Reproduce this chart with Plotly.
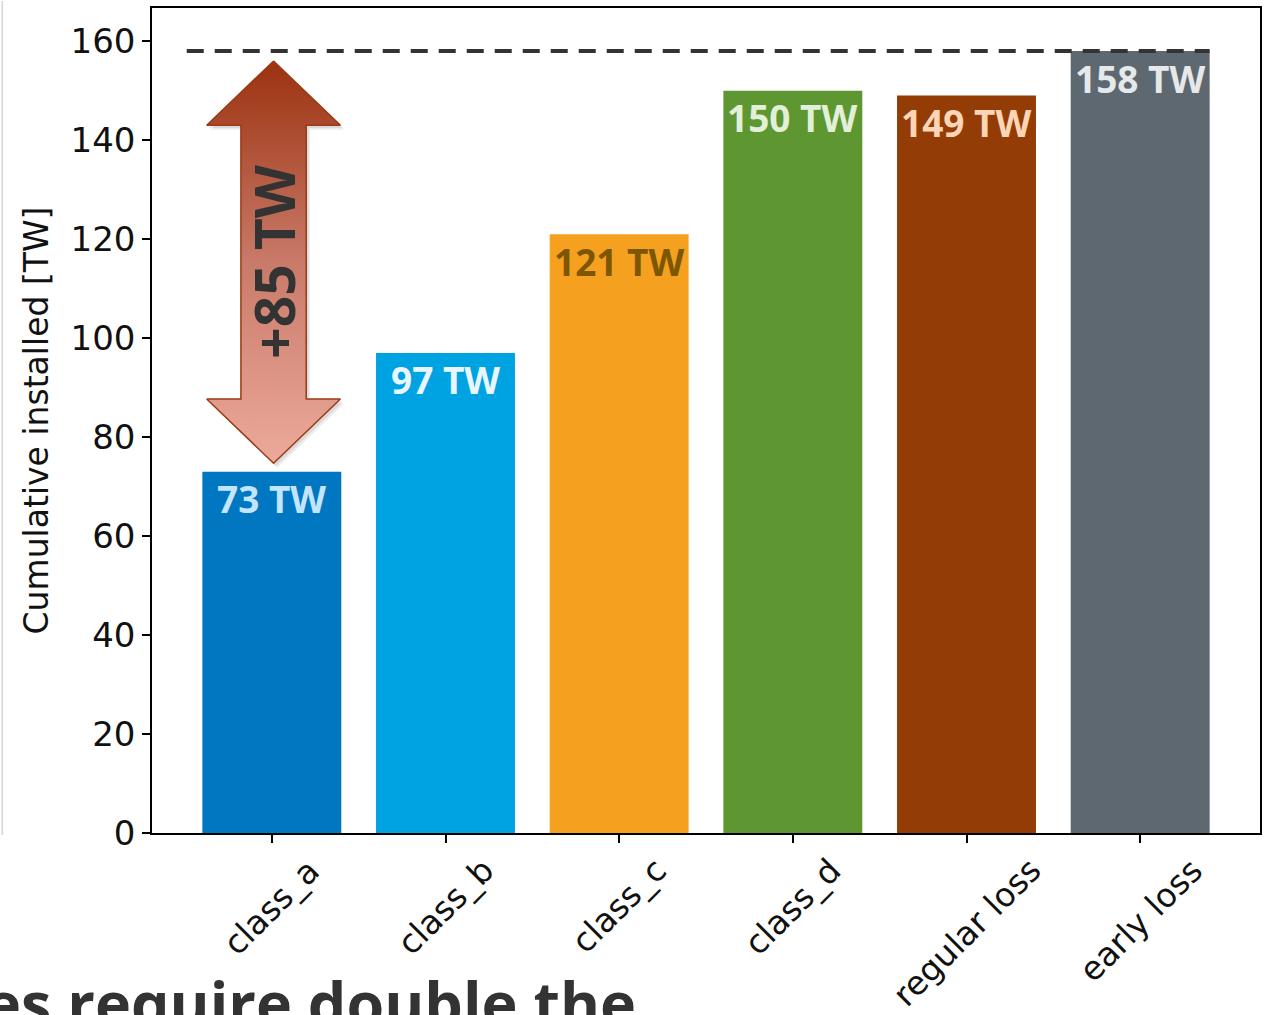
import plotly.graph_objects as go

# --- data -------------------------------------------------------------
categories = ["class_a", "class_b", "class_c", "class_d", "regular loss", "early loss"]
installed_tw = [73, 97, 121, 150, 149, 158]
bar_colors = ["#0177C1", "#00A3E1", "#F5A01E", "#5E9732", "#943C06", "#5D6870"]
label_colors = ["#C3E5FF", "#E9F6FF", "#7C5600", "#E2F0D9", "#FCD5B6", "#E6E8EA"]
y_ticks = [0, 20, 40, 60, 80, 100, 120, 140, 160]

x_idx = list(range(len(categories)))
bar_labels = [f"{v} TW" for v in installed_tw]

TICK_FONT = dict(family="DejaVu Sans", size=34, color="#111111")
XLABEL_FONT = dict(family="DejaVu Sans", size=33, color="#111111")
CALLOUT_FAMILY = "Open Sans"

fig = go.Figure()

# bars
fig.add_trace(go.Bar(
    x=x_idx, y=installed_tw, width=0.8,
    marker=dict(color=bar_colors, line=dict(width=0)),
    hoverinfo="skip", showlegend=False,
))

# value labels inside the top of each bar
for xi, v, txt, col in zip(x_idx, installed_tw, bar_labels, label_colors):
    fig.add_annotation(
        x=xi, y=v, xref="x", yref="y", text=f"<b>{txt}</b>", showarrow=False,
        xanchor="center", yanchor="middle", yshift=-27,
        font=dict(family=CALLOUT_FAMILY, size=37, color=col),
    )

# reference line at the largest value
top_val = max(installed_tw)
fig.add_shape(
    type="line", xref="x", yref="y",
    x0=-0.49, x1=x_idx[-1] + 0.4, y0=top_val, y1=top_val,
    line=dict(color="#333333", width=4, dash="17px,11px"),
)

# double-headed gap arrow from the first bar to the largest value
lo, hi = installed_tw[0], top_val
gain = hi - lo
tip_lo, tip_hi = lo + 1.7, hi - 2.0
head = 13.0
hw, sw = 0.385, 0.188
cx = 0.01
arrow_x = [cx, cx + hw, cx + sw, cx + sw, cx + hw, cx, cx - hw, cx - sw, cx - sw, cx - hw, cx]
arrow_y = [tip_hi, tip_hi - head, tip_hi - head, tip_lo + head, tip_lo + head, tip_lo,
           tip_lo + head, tip_lo + head, tip_hi - head, tip_hi - head, tip_hi]

# soft drop shadow
for dx, dy, a in [(0.022, -0.9, 0.07), (0.014, -0.55, 0.08)]:
    fig.add_trace(go.Scatter(
        x=[p + dx for p in arrow_x], y=[p + dy for p in arrow_y],
        mode="lines", fill="toself", fillcolor=f"rgba(0,0,0,{a})",
        line=dict(width=0), hoverinfo="skip", showlegend=False,
    ))

fig.add_trace(go.Scatter(
    x=arrow_x, y=arrow_y, mode="lines", fill="toself",
    fillgradient=dict(
        type="vertical", start=tip_lo, stop=tip_hi,
        colorscale=[[0, "#ECAA9B"], [0.5, "#C97A69"], [1, "#9B3210"]],
    ),
    line=dict(color="#9A3B12", width=1.5),
    hoverinfo="skip", showlegend=False,
))

fig.add_annotation(
    x=cx, y=(tip_lo + tip_hi) / 2, xref="x", yref="y",
    text=f"<b>+{gain} TW</b>", showarrow=False, textangle=-90,
    xanchor="center", yanchor="middle",
    font=dict(family=CALLOUT_FAMILY, size=55, color="#333333"),
)

# rotated category labels centred under their ticks
for xi, name in zip(x_idx, categories):
    fig.add_annotation(
        x=xi, y=0, xref="x", yref="paper", text=name, showarrow=False,
        textangle=-45, xanchor="center", yanchor="top", yshift=-15,
        font=XLABEL_FONT,
    )

# slide heading text running under the chart
fig.add_annotation(
    x=0.4385, y=-0.153, xref="paper", yref="paper",
    text="<b>es require double the</b>", showarrow=False,
    xanchor="right", yanchor="top",
    font=dict(family=CALLOUT_FAMILY, size=61, color="#333333"),
)

# thin slide border on the left
fig.add_shape(
    type="line", xref="paper", yref="paper",
    x0=-0.1351, x1=-0.1351, y0=-0.0024, y1=1.0085,
    line=dict(color="#D4D4D4", width=1.5),
)

fig.update_xaxes(
    range=[-0.69, len(categories) - 1 + 0.69],
    tickvals=x_idx, showticklabels=False,
    ticks="outside", ticklen=8, tickwidth=1.5, tickcolor="black",
    showline=True, mirror=True, linecolor="black", linewidth=1.5,
    showgrid=False, zeroline=False,
)
fig.update_yaxes(
    range=[0, 166.7],
    tickvals=y_ticks, ticktext=[str(t) for t in y_ticks],
    ticks="outside", ticklen=8, tickwidth=1.5, tickcolor="black",
    tickfont=TICK_FONT,
    showline=True, mirror=True, linecolor="black", linewidth=1.5,
    showgrid=False, zeroline=False,
    title=dict(text="Cumulative installed [TW]",
               font=dict(family="DejaVu Sans", size=33, color="#111111"), standoff=12),
)

fig.update_layout(
    width=1268, height=1015, autosize=False,
    margin=dict(l=152, r=6, t=7, b=182, pad=0),
    paper_bgcolor="white", plot_bgcolor="white",
    bargap=0.2, showlegend=False,
)

fig.write_html("out.html")
